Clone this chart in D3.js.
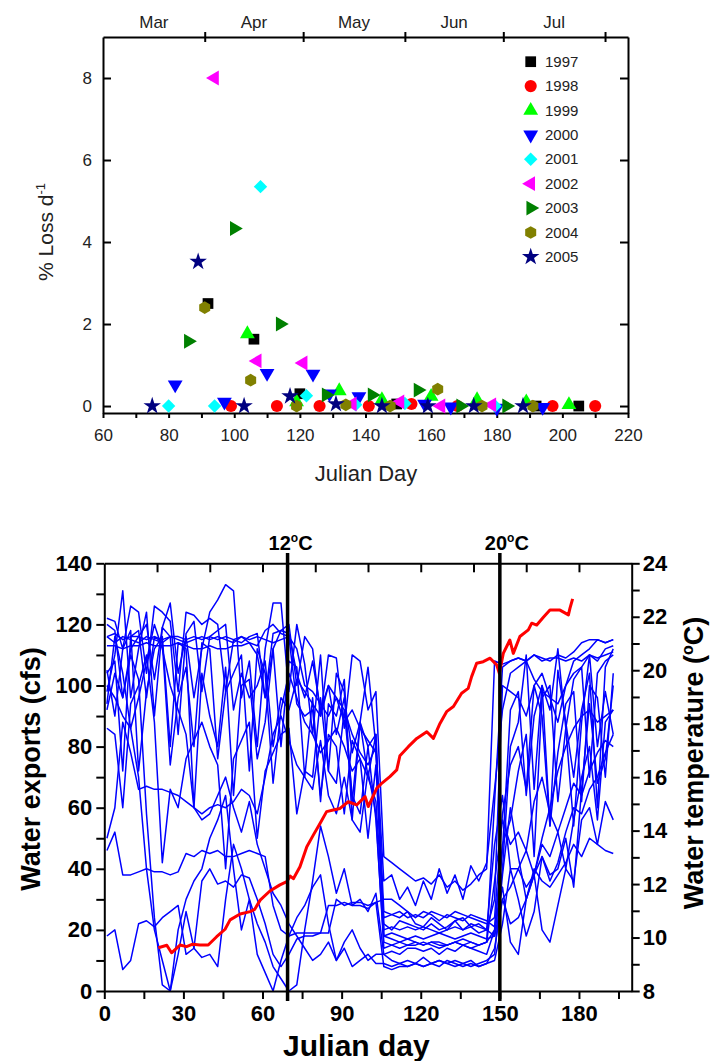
<!DOCTYPE html>
<html>
<head>
<meta charset="utf-8">
<script src="https://cdn.jsdelivr.net/npm/d3@7"></script>
<style>
body { margin: 0; background: #fff; }
svg text { font-family: Arial, "Liberation Sans", sans-serif; }
</style>
</head>
<body>
<div id="chart"></div>
<script>
// ---- top panel: % loss per day by year ----
var lossYears = ["1997", "1998", "1999", "2000", "2001", "2002", "2003", "2004", "2005"];
var lossColors = ["#000000", "#ff0000", "#00ff00", "#0000ff", "#00ffff", "#ff00ff", "#008000", "#808000", "#000080"];

var loss1997 = [[92, 2.5], [106, 1.63], [120, 0.3], [149.5, 0.05], [192, 0], [205, 0]];
var loss1998 = [[99, 0], [113, 0], [126, 0], [141, 0], [154, 0.05], [168, 0], [197, 0], [210, 0]];
var loss1999 = [[104, 1.76], [119, 0.1], [132, 0.37], [145, 0.15], [160, 0.23], [174, 0.15], [189, 0.1], [202, 0.03]];
var loss2000 = [[82, 0.52], [97, 0.1], [110, 0.8], [124, 0.78], [129, 0.3], [138, 0.23], [158, 0.05], [166, -0.02], [180, -0.05], [194, -0.03]];
var loss2001 = [[80, 0], [94, 0], [108, 5.35], [122, 0.25], [137, 0.03], [152, 0.06], [179.5, 0]];
var loss2002 = [[94, 8.0], [107, 1.1], [121, 1.05], [136, 0.05], [150.5, 0.1], [163, 0], [178.5, 0.03]];
var loss2003 = [[86, 1.58], [100, 4.33], [114, 2.0], [128, 0.27], [142, 0.27], [156, 0.39], [169, 0], [183, 0]];
var loss2004 = [[91, 2.4], [105, 0.63], [119, 0], [134, 0.03], [147.5, 0], [162, 0.41], [175.5, 0], [191, 0]];
var loss2005 = [[75, 0], [89, 3.52], [103, 0], [117, 0.24], [131, 0.05], [145, 0], [159, 0], [173, 0], [188, 0]];
var lossData = [loss1997, loss1998, loss1999, loss2000, loss2001, loss2002, loss2003, loss2004, loss2005];

var lossTicks = [0, 2, 4, 6, 8];
var monthNames = ["Mar", "Apr", "May", "Jun", "Jul"];
var monthStarts = [60, 91, 121, 152, 182, 213];

// ---- bottom panel: water exports (cfs), one run per year, every 3 days from day 1 ----
var run01 = [116,117,115,116,116,115,116,115,116,116,115,116,115, 116,115,116,115,116,114,110,96,112,118,117,104,96, 108,92,100,84,96,78,88,70,84,18,17,16,17, 16,15,16,16,15,16,17,16,15,16,62,106,108, 109,108,110,109,108,110,109,111,114,115,115,114,115];
var run02 = [122,121,112,126,124,104,126,124,121,98,124,123,120, 122,120,98,115,114,116,117,96,117,118,120,100,116, 112,90,110,109,86,110,108,92,98,44,42,40,38, 36,37,35,38,34,36,33,35,38,40,108,107,108, 109,108,110,108,109,109,108,109,108,110,109,110,111];
var run03 = [98,110,131,96,112,124,90,119,127,104,116,96,112, 124,128,133,131,96,108,80,112,127,127,98,120,107, 84,110,72,104,98,62,88,106,80,26,25,24,26, 24,26,25,23,25,24,23,25,24,23,21,46,92, 98,64,90,100,54,105,88,70,92,104,60,106,112];
var run04 = [113,113,112,113,113,114,113,113,113,114,113,112,112, 113,112,112,113,113,114,113,118,120,117,116,94,90, 92,64,84,80,58,82,76,50,74,22,20,23,22, 21,20,22,20,21,23,20,22,21,20,48,64,40, 40,46,38,48,44,52,40,56,70,80,56,88,92];
var run05 = [92,104,96,110,102,58,24,2,0,12,26,14,11, 12,8,30,48,40,30,22,16,8,4,0,2,20, 36,54,44,32,40,28,30,26,32,12,10,9,10, 9,11,9,10,9,10,9,8,9,10,12,38,60, 44,30,38,20,16,28,40,36,56,60,48,62,56];
var run06 = [46,52,38,38,39,40,39,39,38,39,45,44,46, 45,46,44,44,45,46,45,44,28,20,18,19,19, 19,19,28,28,29,28,28,27,29,8,7,8,8, 9,8,9,10,9,8,9,10,8,9,14,30,22, 24,30,40,36,34,38,42,48,44,50,48,46,45];
var run07 = [50,60,88,78,66,67,66,66,65,64,62,60,58, 60,61,60,62,66,64,58,70,84,90,82,74,70, 66,82,64,58,70,56,52,72,58,14,15,14,15, 15,16,15,14,15,16,15,14,15,16,36,56,48, 52,46,62,70,58,52,60,68,64,72,78,82,80];
var run08 = [18,20,7,10,22,23,21,24,26,28,12,14,36, 40,35,36,34,38,37,30,22,12,8,12,17,18, 18,19,19,30,28,29,29,28,29,30,30,28,26, 22,21,24,22,20,23,24,21,22,20,18,30,34, 40,34,38,44,36,42,52,60,58,66,70,78,84];
var run09 = [105,90,112,118,72,98,112,116,80,114,112,60,104, 90,80,106,64,100,102,76,88,112,80,108,106,70, 96,62,94,90,102,56,88,80,84,18,19,18,17, 18,17,18,19,18,17,18,19,18,17,18,40,80, 88,110,66,100,92,112,86,54,88,110,80,98,84];
var run10 = [86,84,60,94,100,110,88,42,66,60,76,82,88, 80,74,40,76,82,88,50,72,78,84,86,58,72, 70,96,72,68,92,64,58,80,56,16,15,16,15, 16,15,16,15,15,16,15,16,15,16,20,48,56, 72,84,44,96,100,62,86,102,106,70,104,108,110];
var run11 = [94,116,104,86,96,108,120,112,100,92,84,60,56, 58,64,70,60,52,62,48,40,32,28,22,18,14, 10,12,16,10,14,8,10,12,9,9,8,9,8, 9,8,9,8,10,9,8,9,8,9,10,22,40, 30,18,26,44,38,40,50,34,66,94,68,76,100];
var run12 = [120,118,96,112,116,120,102,119,116,84,117,121,98, 116,118,120,92,104,96,100,108,80,96,92,102,98, 94,90,100,96,92,84,78,74,80,36,38,30,34, 28,36,30,40,32,38,30,41,36,42,66,92,104, 106,108,102,98,96,94,100,104,106,110,108,112,113];
var run13 = [100,96,90,86,70,40,20,10,0,20,30,36,40, 50,56,64,40,20,30,12,6,0,10,18,24,28, 34,38,22,10,16,20,14,10,12,12,13,12,14, 14,13,14,12,14,13,15,14,13,12,20,34,16, 12,30,38,50,60,72,80,86,90,92,88,90,92];
var run14 = [104,108,72,116,118,96,116,114,74,96,106,80,114, 112,76,98,104,110,72,112,104,68,92,104,96,88, 84,78,82,86,80,72,76,70,62,24,25,26,24, 25,24,26,25,24,26,25,24,23,22,24,58,74, 80,66,100,90,54,78,94,98,62,100,96,70,104];
var run15 = [116,114,116,115,114,116,115,114,116,115,114,115,116, 115,116,115,114,116,115,116,115,114,115,116,112,100, 98,94,90,96,88,92,86,82,78,20,21,20,21, 20,21,20,19,20,21,20,21,19,20,30,100,98, 96,90,100,104,96,88,100,108,110,112,115,114,115];
var exportRuns = [run01, run02, run03, run04, run05, run06, run07, run08, run09, run10, run11, run12, run13, run14, run15];

// water temperature (deg C)
var tempDays = [20.5, 23.7, 25.5, 28.7, 31.2, 33.5, 36.3, 39.4, 42.6, 45.8, 47.7, 51.5, 55.3, 57, 59.1, 62.8, 66.6, 69.2, 70.5, 71.7, 74.2, 76.8, 79.3, 81.8, 84.3, 86.8, 89.4, 92.5, 95.7, 98.9, 100.1, 103.3, 105.2, 108.3, 110.9, 112.1, 115.3, 118.5, 122.3, 124.8, 127.3, 129.8, 132.4, 135.5, 138.0, 139.3, 141.2, 143.7, 146.3, 148.8, 149.8, 151.3, 153.8, 155.1, 157.6, 160.8, 162.1, 164.0, 166.5, 169.0, 172.8, 176.0, 176.6, 177.6];
var tempVals = [9.62, 9.71, 9.43, 9.72, 9.66, 9.75, 9.72, 9.72, 10.03, 10.31, 10.66, 10.88, 10.97, 11.05, 11.40, 11.74, 11.97, 12.09, 12.3, 12.2, 12.65, 13.40, 13.84, 14.27, 14.71, 14.77, 14.83, 15.08, 14.96, 15.27, 14.90, 15.58, 15.77, 16.02, 16.27, 16.8, 17.14, 17.45, 17.70, 17.45, 18.01, 18.45, 18.64, 19.14, 19.32, 19.76, 20.26, 20.32, 20.45, 20.20, 19.88, 20.63, 21.13, 20.63, 21.26, 21.51, 21.76, 21.69, 21.98, 22.25, 22.25, 22.07, 22.32, 22.67];

var thresholdDays = [69.5, 150];
var thresholdLabels = ["12", "20"];

var svg = d3.select("#chart").append("svg")
    .attr("width", 715)
    .attr("height", 1061);

function styleAxis(g, size, weight, color) {
    g.selectAll("path.domain").attr("stroke", "#000").attr("stroke-width", 2);
    g.selectAll(".tick line").attr("stroke", "#000").attr("stroke-width", 2);
    g.selectAll(".tick text")
        .attr("font-family", "Arial, 'Liberation Sans', sans-serif")
        .attr("font-size", size)
        .attr("font-weight", weight)
        .attr("fill", color);
}

// ================= top panel =================
var x1 = d3.scaleLinear().domain([60, 220]).range([103, 628]);
var y1 = d3.scaleLinear().domain([-0.17, 9]).range([413, 37]);

var upper = svg.append("g");

upper.append("g")
    .attr("transform", "translate(0,413)")
    .call(d3.axisBottom(x1).tickValues(d3.range(60, 221, 10)).tickSize(5).tickSizeOuter(0).tickPadding(11)
        .tickFormat(function(d) { return d % 20 === 0 ? d : ""; }))
    .call(styleAxis, "17px", "normal", "#222");

upper.append("g")
    .attr("transform", "translate(103,0)")
    .call(d3.axisLeft(y1).tickValues(lossTicks).tickSize(-8).tickSizeOuter(0).tickPadding(11))
    .call(styleAxis, "17px", "normal", "#222");

upper.append("g")
    .attr("transform", "translate(628,0)")
    .call(d3.axisRight(y1).tickValues(lossTicks).tickSize(-8).tickSizeOuter(0).tickFormat(""))
    .call(styleAxis, "17px", "normal", "#222");

var topAx = upper.append("g")
    .attr("transform", "translate(0,37)")
    .call(d3.axisTop(x1).tickValues(monthStarts.slice(1)).tickSize(5).tickSizeOuter(0).tickFormat(""))
    .call(styleAxis, "17px", "normal", "#222");
topAx.selectAll(".tick line").attr("y1", 5);

upper.selectAll("text.month")
    .data(monthNames)
    .enter().append("text")
    .attr("class", "month")
    .attr("x", function(d, i) { return x1((monthStarts[i] + monthStarts[i + 1]) / 2); })
    .attr("y", 28)
    .attr("text-anchor", "middle")
    .attr("font-size", "17px")
    .attr("fill", "#222")
    .text(function(d) { return d; });

upper.append("text")
    .attr("x", 366)
    .attr("y", 481)
    .attr("text-anchor", "middle")
    .attr("font-size", "22px")
    .attr("fill", "#222")
    .text("Julian Day");

var lossLabel = upper.append("text")
    .attr("transform", "translate(53,232) rotate(-90)")
    .attr("text-anchor", "middle")
    .attr("font-size", "21px")
    .attr("fill", "#222");
lossLabel.append("tspan").text("% Loss d");
lossLabel.append("tspan").attr("dy", -8).attr("font-size", "13px").text("-1");

// marker shapes
var hexagon = {
    draw: function(ctx, size) {
        var r = Math.sqrt(size / 2.598);
        for (var i = 0; i < 6; i++) {
            var a = Math.PI / 3 * i - Math.PI / 2;
            if (i === 0) ctx.moveTo(r * Math.cos(a), r * Math.sin(a));
            else ctx.lineTo(r * Math.cos(a), r * Math.sin(a));
        }
        ctx.closePath();
    }
};
var diamond = {
    draw: function(ctx, size) {
        var r = Math.sqrt(size / 2);
        ctx.moveTo(0, -r); ctx.lineTo(r, 0); ctx.lineTo(0, r); ctx.lineTo(-r, 0); ctx.closePath();
    }
};
var markerTypes = [d3.symbolSquare, d3.symbolCircle, d3.symbolTriangle, d3.symbolTriangle, diamond,
    d3.symbolTriangle, d3.symbolTriangle, hexagon, d3.symbolStar];
var markerSizes = [115, 115, 95, 95, 90, 95, 95, 105, 95];
var markerRotate = [0, 0, 0, 180, 0, -90, 90, 0, 0];

function markerPath(i) {
    return d3.symbol().type(markerTypes[i]).size(markerSizes[i])();
}

lossData.forEach(function(series, i) {
    upper.append("g")
        .selectAll("path")
        .data(series)
        .enter().append("path")
        .attr("d", markerPath(i))
        .attr("transform", function(d) {
            return "translate(" + x1(d[0]) + "," + y1(d[1]) + ") rotate(" + markerRotate[i] + ")";
        })
        .attr("fill", lossColors[i]);
});

var legend = upper.append("g");
lossYears.forEach(function(yr, i) {
    var ly = 61.7 + i * 24.4;
    legend.append("path")
        .attr("d", markerPath(i))
        .attr("transform", "translate(530.7," + ly + ") rotate(" + markerRotate[i] + ")")
        .attr("fill", lossColors[i]);
    legend.append("text")
        .attr("x", 545)
        .attr("y", ly + 5)
        .attr("font-size", "15px")
        .attr("fill", "#222")
        .text(yr);
});

// ================= bottom panel =================
var x2 = d3.scaleLinear().domain([0, 200]).range([104.3, 631.7]);
var y2 = d3.scaleLinear().domain([0, 140]).range([991, 563.3]);
var y2r = d3.scaleLinear().domain([8, 24]).range([991, 563.3]);

var lower = svg.append("g");

var exportLine = d3.line()
    .x(function(d, i) { return x2(1 + 3 * i); })
    .y(function(d) { return y2(d); });

lower.append("g")
    .selectAll("path")
    .data(exportRuns)
    .enter().append("path")
    .attr("d", exportLine)
    .attr("fill", "none")
    .attr("stroke", "#0000ff")
    .attr("stroke-width", 1.5)
    .attr("stroke-linejoin", "round");

var tempLine = d3.line()
    .x(function(d, i) { return x2(tempDays[i]); })
    .y(function(d) { return y2r(d); });

lower.append("path")
    .datum(tempVals)
    .attr("d", tempLine)
    .attr("fill", "none")
    .attr("stroke", "#ff0000")
    .attr("stroke-width", 3)
    .attr("stroke-linejoin", "round");

lower.append("g")
    .attr("transform", "translate(0,991)")
    .call(d3.axisBottom(x2).tickValues(d3.range(0, 200, 15)).tickSize(8).tickSizeOuter(0).tickPadding(6)
        .tickFormat(function(d) { return d % 30 === 0 ? d : ""; }))
    .call(styleAxis, "22px", "bold", "#000");

lower.append("g")
    .attr("transform", "translate(104.3,0)")
    .call(d3.axisLeft(y2).tickValues(d3.range(0, 141, 10)).tickSize(8).tickSizeOuter(0).tickPadding(4)
        .tickFormat(function(d) { return d % 20 === 0 ? d : ""; }))
    .call(styleAxis, "22px", "bold", "#000");

lower.append("g")
    .attr("transform", "translate(631.7,0)")
    .call(d3.axisRight(y2r).tickValues(d3.range(8, 25, 1)).tickSize(8).tickSizeOuter(0).tickPadding(3)
        .tickFormat(function(d) { return d % 2 === 0 ? d : ""; }))
    .call(styleAxis, "22px", "bold", "#000");

lower.append("g")
    .attr("transform", "translate(0,563.3)")
    .call(d3.axisTop(x2).tickValues(d3.range(20, 200, 20)).tickSize(-9).tickSizeOuter(0).tickFormat(""))
    .call(styleAxis, "22px", "bold", "#000");

// temperature threshold lines
thresholdDays.forEach(function(day, i) {
    lower.append("line")
        .attr("x1", x2(day)).attr("x2", x2(day))
        .attr("y1", 553).attr("y2", 1001)
        .attr("stroke", "#000")
        .attr("stroke-width", 3.5);
    var t = lower.append("text")
        .attr("x", x2(day) + 3 + i * 4)
        .attr("y", 550)
        .attr("text-anchor", "middle")
        .attr("font-size", "20px")
        .attr("font-weight", "bold");
    t.append("tspan").text(thresholdLabels[i]);
    t.append("tspan").attr("dy", -8).attr("font-size", "12px").text("o");
    t.append("tspan").attr("dy", 8).text("C");
});

lower.append("text")
    .attr("x", 283)
    .attr("y", 1056)
    .attr("font-size", "30px")
    .attr("font-weight", "bold")
    .text("Julian day");

lower.append("text")
    .attr("transform", "translate(40,769) rotate(-90)")
    .attr("text-anchor", "middle")
    .attr("font-size", "27px")
    .attr("font-weight", "bold")
    .text("Water exports (cfs)");

var tempLabel = lower.append("text")
    .attr("transform", "translate(703,763) rotate(-90)")
    .attr("text-anchor", "middle")
    .attr("font-size", "27px")
    .attr("font-weight", "bold");
tempLabel.append("tspan").text("Water temperature (");
tempLabel.append("tspan").attr("dy", -10).attr("font-size", "16px").text("o");
tempLabel.append("tspan").attr("dy", 10).text("C)");
</script>
</body>
</html>
